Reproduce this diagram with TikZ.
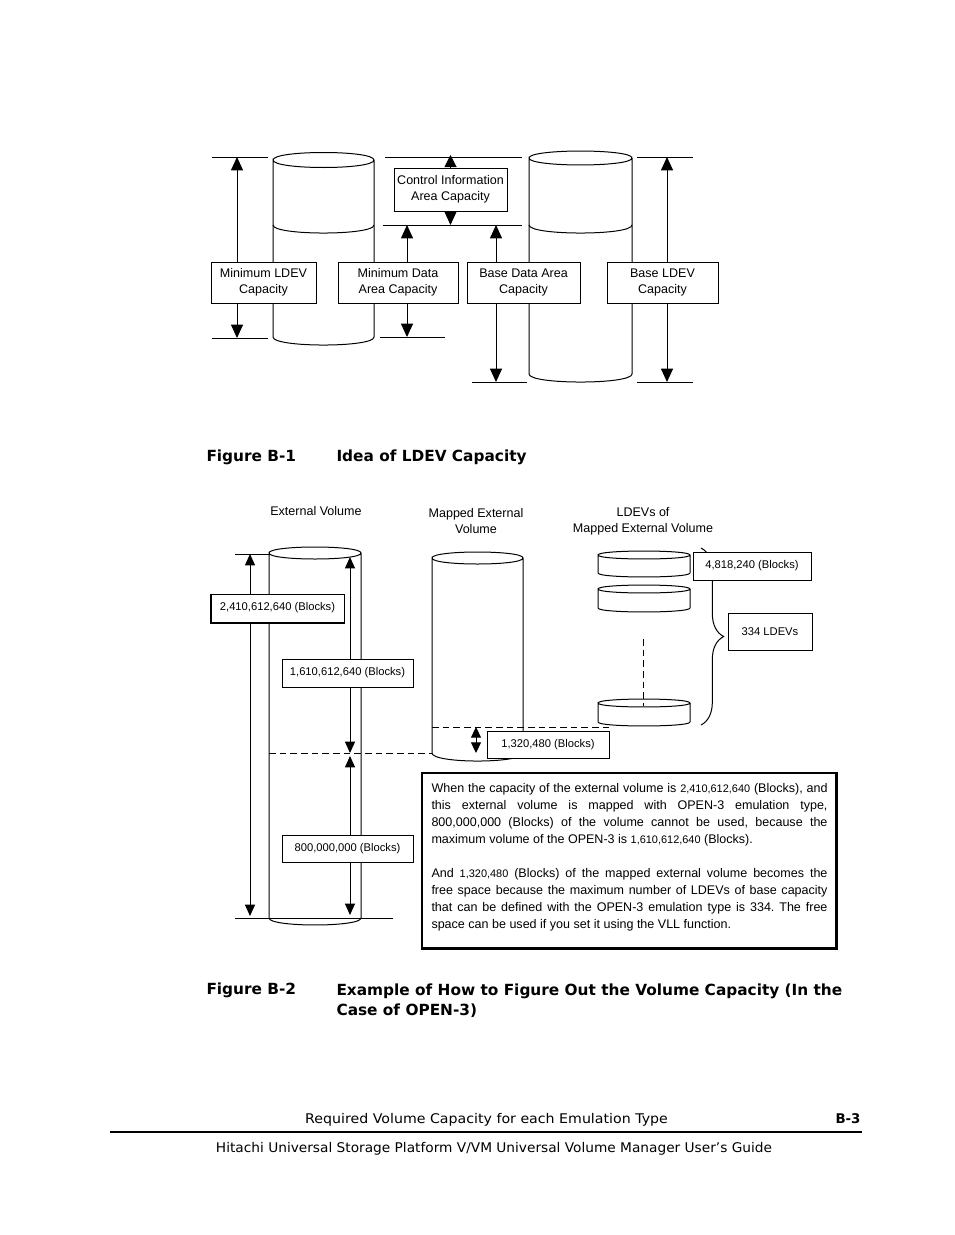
\documentclass[tikz,border=0pt]{standalone}
\usepackage{fontspec}
\usepackage{graphicx}
\setmainfont{Liberation Sans}
\newfontfamily\headfont{DejaVu Sans}
\usetikzlibrary{arrows.meta,decorations.pathreplacing}
\newcommand\smallnum[1]{{\fontsize{8.2}{12.75}\selectfont #1}}
\begin{document}
\begin{tikzpicture}[x=0.75pt,y=-0.75pt,line width=0.75pt,
  box/.style={draw,fill=white,align=center,inner sep=0pt,font=\fontsize{9.4}{12}\selectfont},
  sbox/.style={draw,fill=white,align=center,inner sep=0pt,font=\fontsize{8.4}{10}\selectfont},
  lbl/.style={align=center,inner sep=0pt,font=\fontsize{9.4}{12}\selectfont},
  bigtip/.style={>={Triangle[length=10pt,width=9pt]}},
  smalltip/.style={>={Triangle[length=8.5pt,width=7.5pt]}},
  head/.style={anchor=base west,inner sep=0pt,font=\headfont\bfseries\fontsize{11.5}{15}\selectfont},
  foot/.style={inner sep=0pt,font=\headfont\fontsize{10}{12}\selectfont}]
\useasboundingbox (0,0) rectangle (954,1235);

% ================= Figure B-1 =================
\begin{scope}[bigtip]
% reference lines
\coordinate (l1a) at (212,157); \coordinate (l1b) at (268,157);
\coordinate (l2a) at (212,338); \coordinate (l2b) at (268,338);
\coordinate (l3a) at (385,157); \coordinate (l3b) at (522,157);
\coordinate (l4a) at (383,225); \coordinate (l4b) at (522,225);
\coordinate (l5a) at (380,337); \coordinate (l5b) at (445,337);
\coordinate (l6a) at (472,382); \coordinate (l6b) at (527,382);
\coordinate (l7a) at (637,157); \coordinate (l7b) at (693,157);
\coordinate (l8a) at (637,382); \coordinate (l8b) at (693,382);
\foreach \a/\b in {l1a/l1b,l2a/l2b,l3a/l3b,l4a/l4b,l5a/l5b,l6a/l6b,l7a/l7b,l8a/l8b}
  \draw (\a) -- (\b);
% cylinder 1
\draw (273,160) .. controls (273,150) and (374,150) .. (374,160)
      .. controls (374,170) and (273,170) .. (273,160) -- (273,337)
      .. controls (273,347.7) and (374,347.7) .. (374,337) -- (374,160);
\draw (273,225) .. controls (273,235.7) and (374,235.7) .. (374,225);
% cylinder 2
\draw (529,158) .. controls (529,148.7) and (632,148.7) .. (632,158)
      .. controls (632,167.3) and (529,167.3) .. (529,158) -- (529,374)
      .. controls (529,384.7) and (632,384.7) .. (632,374) -- (632,158);
\draw (529,225) .. controls (529,235.7) and (632,235.7) .. (632,225);
% dimension arrows
\coordinate (a1t) at (237,157); \coordinate (a1b) at (237,338);
\coordinate (a2t) at (407,225); \coordinate (a2b) at (407,337);
\coordinate (a3t) at (496,225); \coordinate (a3b) at (496,382);
\coordinate (a4t) at (667,157); \coordinate (a4b) at (667,382);
\draw[<->] (a1t) -- (a1b);
\draw[<->] (a2t) -- (a2b);
\draw[<->] (a3t) -- (a3b);
\draw[<->] (a4t) -- (a4b);
% boxes
\node[box,minimum width=78.75pt,minimum height=30.75pt] (minldev) at (263.5,282.5) {Minimum LDEV\\Capacity};
\node[box,minimum width=84.75pt,minimum height=32.25pt] (ctrl) at (450.5,189.5) {Control Information\\Area Capacity};
\node[box,minimum width=90pt,minimum height=30.75pt] (mindata) at (398,282.5) {Minimum Data\\Area Capacity};
\node[box,minimum width=84.75pt,minimum height=30.75pt] (basedata) at (523.5,282.5) {Base Data Area\\Capacity};
\node[box,minimum width=83.25pt,minimum height=30.75pt] (baseldev) at (662.5,282.5) {Base LDEV\\Capacity};
\coordinate (ct) at (450.5,155); \coordinate (cb) at (450.5,225);
\draw[->,>={Triangle[length=9pt,width=9pt]}] (ctrl.north) -- (ct);
\draw[->] (ctrl.south) -- (cb);
\end{scope}

\node[head] (f1) at (206,461) {Figure B-1};
\node[head] (f1t) at (336,461) {Idea of LDEV Capacity};

% ================= Figure B-2 =================
\begin{scope}[smalltip]
\node[lbl] (evl) at (316,511) {External Volume};
\node[lbl] (mevl) at (476,521.5) {Mapped External\\Volume};
\node[lbl] (ldl) at (643,521.5) {LDEVs of\\Mapped External Volume};
% lines
\coordinate (m1a) at (235,554); \coordinate (m1b) at (269,554);
\coordinate (m2a) at (235,918); \coordinate (m2b) at (393,918);
\draw (m1a) -- (m1b); \draw (m2a) -- (m2b);
\coordinate (d1a) at (269,753); \coordinate (d1b) at (432,753);
\coordinate (d2a) at (432,727); \coordinate (d2b) at (612,727);
\draw[dashed,dash pattern=on 5pt off 3pt] (d1a) -- (d1b);
\draw[dashed,dash pattern=on 5pt off 3pt] (d2a) -- (d2b);
% external volume cylinder
\draw (269,553) .. controls (269,545) and (361,545) .. (361,553)
      .. controls (361,561) and (269,561) .. (269,553) -- (269,918)
      .. controls (269,927.3) and (361,927.3) .. (361,918) -- (361,553);
% mapped external volume cylinder
\draw (432,558) .. controls (432,550) and (523,550) .. (523,558)
      .. controls (523,566) and (432,566) .. (432,558) -- (432,753)
      .. controls (432,763.7) and (523,763.7) .. (523,753) -- (523,558);
% LDEV discs
\foreach \t/\b in {555/573,589/608,703/722}{
  \draw (598,\t) .. controls (598,\t-5.3) and (690,\t-5.3) .. (690,\t)
        .. controls (690,\t+5.3) and (598,\t+5.3) .. (598,\t) -- (598,\b)
        .. controls (598,\b+5.3) and (690,\b+5.3) .. (690,\b) -- (690,\t);
}
\coordinate (vd1) at (643,639); \coordinate (vd2) at (643,706);
\draw[dashed,dash pattern=on 5pt off 3pt] (vd1) -- (vd2);
% brace
\coordinate (bt) at (701,548); \coordinate (bb) at (701,725);
\draw[decorate,decoration={brace,amplitude=17pt}] (bt) -- (bb);
% arrows
\coordinate (e1t) at (250,554); \coordinate (e1b) at (250,916);
\coordinate (e2t) at (350,557); \coordinate (e2b) at (350,753);
\coordinate (e3t) at (350,756); \coordinate (e3b) at (350,915);
\coordinate (e4t) at (476,727); \coordinate (e4b) at (476,753);
\draw[<->] (e1t) -- (e1b);
\draw[<->] (e2t) -- (e2b);
\draw[<->] (e3t) -- (e3b);
\draw[<->,>={Triangle[length=8pt,width=7.5pt]}] (e4t) -- (e4b);
% boxes
\node[sbox,minimum width=99.75pt,minimum height=21pt] (b2410) at (277.5,608) {2,410,612,640 (Blocks)};
\draw[line width=1.5pt] (b2410.north west) -- (b2410.south west) -- (b2410.south east);
\node[sbox,minimum width=98.25pt,minimum height=21pt] (b1610) at (347.5,673) {1,610,612,640 (Blocks)};
\node[sbox,minimum width=98.25pt,minimum height=20.25pt] (b800) at (347.5,848.5) {800,000,000 (Blocks)};
\node[sbox,minimum width=91.5pt,minimum height=20.25pt] (b1320) at (548,744.5) {1,320,480 (Blocks)};
\node[sbox,minimum width=88.5pt,minimum height=21pt] (b4818) at (752,566) {4,818,240 (Blocks)};
\node[sbox,minimum width=63pt,minimum height=27.75pt] (b334) at (770,631.5) {334 LDEVs};
% explanation box
\node[draw,line width=0.9pt,minimum width=310.5pt,minimum height=131.25pt,inner sep=0pt] (tbox) at (629,860.5) {};
\draw[line width=1.5pt] (tbox.north east) -- (tbox.south east) -- (tbox.south west);
\node[anchor=north west,inner sep=0pt] (ttext) at (431,782.5) {\parbox[t]{297pt}{\frenchspacing\fontsize{9.4}{12.75}\selectfont
When the capacity of the external volume is \smallnum{2,410,612,640} (Blocks), and\linebreak
this external volume is mapped with OPEN-3 emulation type,\linebreak
800,000,000 (Blocks) of the volume cannot be used, because the\linebreak
maximum volume of the OPEN-3 is \smallnum{1,610,612,640} (Blocks).\par
\vspace{12.75pt}
And \smallnum{1,320,480} (Blocks) of the mapped external volume becomes the\linebreak
free space because the maximum number of LDEVs of base capacity\linebreak
that can be defined with the OPEN-3 emulation type is 334. The free\linebreak
space can be used if you set it using the VLL function.}};
\end{scope}

\node[head] (f2) at (206,994) {Figure B-2};
\node[head,align=left,anchor=north west] (f2t) at (336,983) {Example of How to Figure Out the Volume Capacity (In the\\Case of OPEN-3)};

% ================= Footer =================
\node[foot,anchor=base] (ft1) at (486.5,1123) {\resizebox{272pt}{\height}{Required Volume Capacity for each Emulation Type}};
\node[foot,anchor=base east,font=\headfont\bfseries\fontsize{10}{12}\selectfont] (ft2) at (861,1123) {B-3};
\coordinate (r1) at (110,1132); \coordinate (r2) at (862,1132);
\draw[line width=1.5pt] (r1) -- (r2);
\node[foot,anchor=base] (ft3) at (494,1152) {\resizebox{417pt}{\height}{Hitachi Universal Storage Platform V/VM Universal Volume Manager User’s Guide}};
\end{tikzpicture}
\end{document}
